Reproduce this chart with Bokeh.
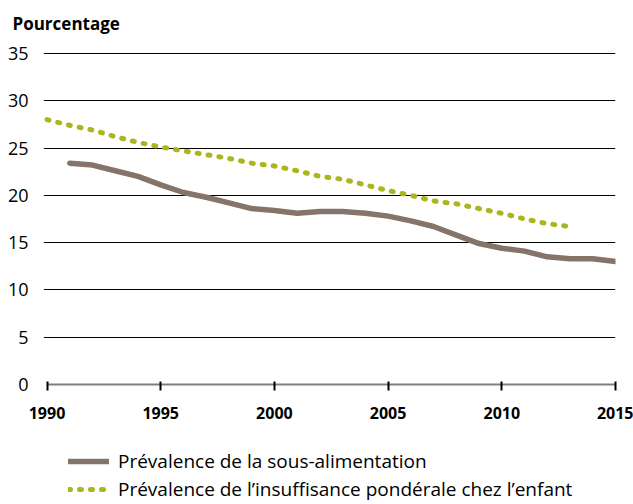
from bokeh.plotting import figure
from bokeh.models import Legend, LegendItem, FixedTicker, Range1d
from bokeh.layouts import column
from bokeh.embed import file_html
from bokeh.resources import INLINE

# Data
years_sous = [1991, 1992, 1993, 1994, 1995, 1996, 1997, 1998, 1999, 2000,
              2001, 2002, 2003, 2004, 2005, 2006, 2007, 2008, 2009, 2010,
              2011, 2012, 2013, 2014, 2015]
sous_alimentation = [23.4, 23.2, 22.6, 22.0, 21.1, 20.3, 19.8, 19.2, 18.6, 18.4,
                     18.1, 18.3, 18.3, 18.1, 17.8, 17.3, 16.7, 15.8, 14.9, 14.4,
                     14.1, 13.5, 13.3, 13.3, 13.0]

years_enfant = [1990, 1991, 1992, 1993, 1994, 1995, 1996, 1997, 1998, 1999,
                2000, 2001, 2002, 2003, 2004, 2005, 2006, 2007, 2008, 2009,
                2010, 2011, 2012, 2013]
insuffisance_ponderale = [28.0, 27.4, 26.9, 26.2, 25.6, 25.1, 24.7, 24.3, 23.9, 23.4,
                          23.1, 22.6, 22.0, 21.7, 21.1, 20.5, 20.0, 19.4, 19.1, 18.6,
                          18.1, 17.5, 17.0, 16.7]

x_ticks = [1990, 1995, 2000, 2005, 2010, 2015]
y_ticks = [0, 5, 10, 15, 20, 25, 30, 35]
grid_ticks = [5, 10, 15, 20, 25, 30, 35]

label_sous = "Prévalence de la sous-alimentation"
label_enfant = "Prévalence de l’insuffisance pondérale chez l’enfant"
y_title = "Pourcentage"

BROWN = "#857469"
GREEN = "#abb51d"
FONT = "Open Sans"

sous_style = dict(line_color=BROWN, line_width=5.5, line_cap="round", line_join="round")
enfant_style = dict(line_color=GREEN, line_width=5, line_cap="round",
                    line_join="round", line_dash="2 9")


def strip(height, **kw):
    f = figure(width=633, height=height, output_backend="svg", toolbar_location=None,
               x_range=Range1d(0, 1), y_range=Range1d(0, 1),
               x_axis_type=None, y_axis_type=None,
               min_border_left=0, min_border_right=0, min_border_top=0,
               min_border_bottom=0, **kw)
    f.outline_line_color = None
    f.xgrid.visible = False
    f.ygrid.visible = False
    return f


# title strip (title sits at the bottom of this strip)
pt = strip(34, title=y_title, title_location="below")
pt.title.text_font = FONT
pt.title.text_font_size = "17px"
pt.title.text_font_style = "bold"
pt.title.text_color = "black"
pt.title.align = "left"
pt.title.offset = -31
pt.title.standoff = 0

# main chart
p = figure(width=633, height=406, output_backend="svg", toolbar_location=None,
           x_range=Range1d(1989.846, 2015), y_range=Range1d(0, 35.1),
           min_border_left=43, min_border_right=18, min_border_top=18,
           min_border_bottom=56)

p.outline_line_color = None
p.background_fill_color = "white"
p.border_fill_color = "white"

p.line(years_sous, sous_alimentation, **sous_style)
p.line(years_enfant, insuffisance_ponderale, **enfant_style)

# x axis
xa = p.xaxis[0]
xa.ticker = FixedTicker(ticks=x_ticks)
xa.bounds = (1990, 2015)
xa.axis_line_color = "#808080"
xa.axis_line_width = 2
xa.major_tick_line_color = "black"
xa.major_tick_line_width = 2
xa.major_tick_in = 3
xa.major_tick_out = 6
xa.minor_tick_line_color = None
xa.major_label_text_font = FONT
xa.major_label_text_font_size = "16px"
xa.major_label_text_font_style = "bold"
xa.major_label_text_color = "black"
xa.major_label_standoff = 16

# y axis
ya = p.yaxis[0]
ya.ticker = FixedTicker(ticks=y_ticks)
ya.axis_line_color = None
ya.major_tick_line_color = None
ya.minor_tick_line_color = None
ya.major_label_text_font = FONT
ya.major_label_text_font_size = "18px"
ya.major_label_text_color = "black"
ya.major_label_standoff = 9

p.xgrid.grid_line_color = None
p.ygrid.ticker = FixedTicker(ticks=grid_ticks)
p.ygrid.grid_line_color = "black"
p.ygrid.grid_line_width = 1

# legend strip below the chart (its lines lie outside its own view; only the legend shows)
pl = strip(64)
l1 = pl.line(years_sous, sous_alimentation, **sous_style)
l2 = pl.line(years_enfant, insuffisance_ponderale, **enfant_style)

legend = Legend(items=[LegendItem(label=label_sous, renderers=[l1]),
                       LegendItem(label=label_enfant, renderers=[l2])],
                location=(25, 2), orientation="vertical",
                padding=0, margin=0, spacing=2,
                glyph_width=41, glyph_height=26, label_height=26,
                label_standoff=9, label_text_font=FONT,
                label_text_font_size="19px", label_text_color="black",
                border_line_color=None, background_fill_alpha=0)
pl.add_layout(legend)

layout = column(pt, p, pl, spacing=0)

open("out.html", "w").write(file_html(layout, INLINE))
